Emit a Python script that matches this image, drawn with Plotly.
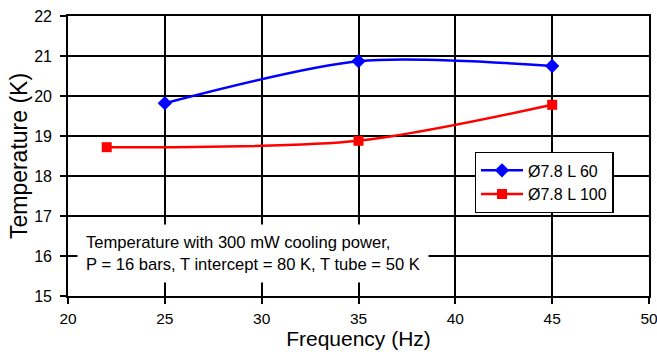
import plotly.graph_objects as go

freq_a = [25, 35, 45]
temp_a = [19.82, 20.87, 20.75]
freq_b = [22, 35, 45]
temp_b = [18.72, 18.88, 19.78]
name_a = "Ø7.8 L 60"
name_b = "Ø7.8 L 100"
note = "Temperature with 300 mW cooling power,<br>P = 16 bars, T intercept = 80 K, T tube = 50 K"

FONT = "Liberation Sans, Arial"

fig = go.Figure()
fig.add_trace(go.Scatter(x=freq_a, y=temp_a, name=name_a, mode="lines+markers",
                         line=dict(color="#0000ff", width=2.5, shape="spline", smoothing=0.8),
                         marker=dict(symbol="diamond", size=11, color="#0000ff")))
fig.add_trace(go.Scatter(x=freq_b, y=temp_b, name=name_b, mode="lines+markers",
                         line=dict(color="#ff0000", width=2.5, shape="spline", smoothing=0.8),
                         marker=dict(symbol="square", size=10, color="#ff0000")))

axis_common = dict(showline=True, linecolor="black", linewidth=1.6, mirror=True,
                   showgrid=True, gridcolor="black", gridwidth=1.6,
                   ticks="outside", ticklen=6, tickcolor="black", tickwidth=1.6,
                   automargin=False, ticklabeloverflow="allow",
                   zeroline=False)

fig.update_xaxes(range=[20, 50], dtick=5, ticklabelstandoff=2,
                 tickfont=dict(family=FONT, size=15.5, color="black"),
                 title=dict(text="Frequency (Hz)", standoff=0,
                            font=dict(family=FONT, size=21, color="black")), **axis_common)
fig.update_yaxes(range=[15, 22], dtick=1, ticklabelstandoff=5,
                 tickfont=dict(family=FONT, size=16, color="black"),
                 title=dict(text="Temperature (K)", standoff=0,
                            font=dict(family=FONT, size=23, color="black")), **axis_common)

fig.add_annotation(text=note, xref="paper", yref="paper", x=0.016, y=0.152, xanchor="left", yanchor="middle",
                   align="left", showarrow=False, bgcolor="white", borderpad=8,
                   font=dict(family=FONT, size=16.6, color="black"))

fig.update_layout(width=657, height=352, margin=dict(l=68, r=8, t=16, b=56),
                  plot_bgcolor="white", paper_bgcolor="white",
                  showlegend=True,
                  legend=dict(x=0.70, y=0.514, xanchor="left", yanchor="top", bgcolor="white",
                              bordercolor="black", borderwidth=1.3, itemwidth=42,
                              font=dict(family=FONT, size=16, color="black"),
                              tracegroupgap=4))

fig.write_html("out.html")
